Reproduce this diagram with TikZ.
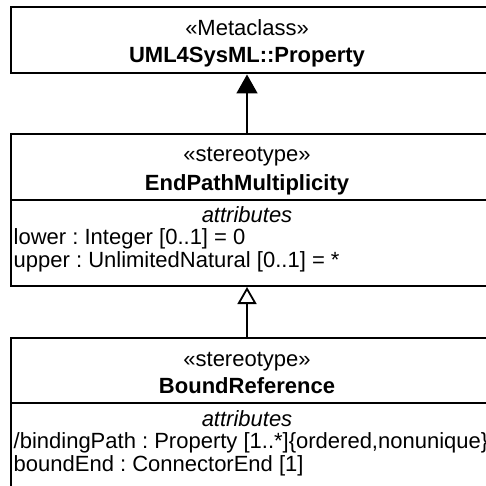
\documentclass[tikz,border=0pt]{standalone}
\usepackage{fontspec}
\setmainfont{Liberation Sans}
\usetikzlibrary{arrows.meta}
\begin{document}
\frenchspacing
\begin{tikzpicture}[x=1pt,y=-1pt,
  box/.style={draw,line width=2pt,rectangle,anchor=north west,inner sep=0pt,minimum width=480pt},
  lbl/.style={inner sep=0pt,anchor=base,font=\fontsize{22}{23}\selectfont},
  attr/.style={inner sep=0pt,anchor=base west,font=\fontsize{22}{23}\selectfont},
  conn/.style={line width=1.8pt}]
\useasboundingbox (0,0) rectangle (485,486);
% boxes
\node[box,minimum height=66pt] (meta) at (10,6.5) {};
\node[box,minimum height=152pt] (mid) at (10,133) {};
\node[box,minimum height=170pt] (bot) at (10,337) {};
\coordinate (ax) at (247,0);
% dividers
\draw[line width=2pt] (mid.west |- 0,199.5) -- (mid.east |- 0,199.5);
\draw[line width=2pt] (bot.west |- 0,403) -- (bot.east |- 0,403);
% texts top
\node[lbl] (t1) at (247,35.5) {«Metaclass»};
\node[lbl] (t2) at (247,62.5) {\bfseries UML4SysML::Property};
% middle
\node[lbl] (m1) at (247,162) {«stereotype»};
\node[lbl] (m2) at (247,190.5) {\bfseries EndPathMultiplicity};
\node[lbl] (m3) at (247,222.5) {\itshape attributes};
\node[attr] (m4) at (13.5,244.5) {lower : Integer [0..1] = 0};
\node[attr] (m5) at (13.5,267.5) {upper : UnlimitedNatural [0..1] = *};
% bottom
\node[lbl] (b1) at (247,366) {«stereotype»};
\node[lbl] (b2) at (247,393.5) {\bfseries BoundReference};
\node[lbl] (b3) at (247,426) {\itshape attributes};
\node[attr] (b4) at (13.5,448) {/bindingPath : Property [1..*]\{ordered,nonunique\}};
\node[attr] (b5) at (13.5,471) {boundEnd : ConnectorEnd [1]};
% connectors
\draw[conn,-{Triangle[width=21pt,length=19pt]}] (mid.north -| ax) -- (meta.south -| ax);
\draw[conn,-{Triangle[width=19pt,length=17pt,fill=white]}] (bot.north -| ax) -- (mid.south -| ax);
\end{tikzpicture}
\end{document}
